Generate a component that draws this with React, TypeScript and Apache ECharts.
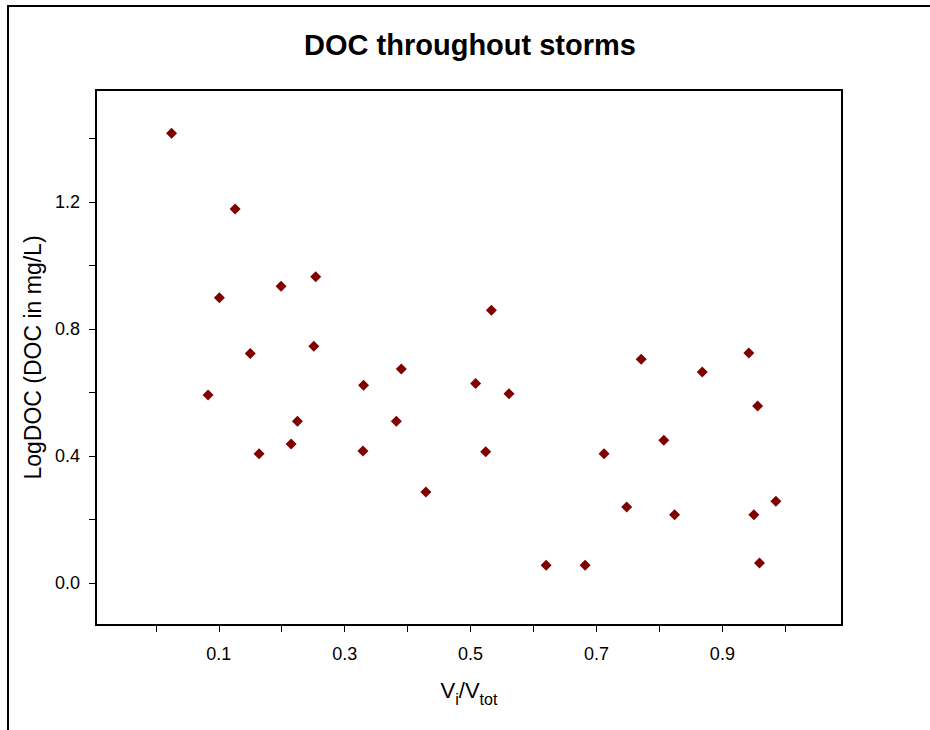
import React, { useEffect, useRef } from "react";
import * as echarts from "echarts";

const TITLE = "DOC throughout storms";
const Y_NAME = "LogDOC (DOC in mg/L)";

const xValues = [
  0.025, 0.126, 0.101, 0.083, 0.150, 0.164, 0.199, 0.215, 0.225, 0.254, 0.251,
  0.330, 0.329, 0.390, 0.382, 0.429, 0.508, 0.533, 0.524, 0.561, 0.620, 0.682,
  0.712, 0.748, 0.771, 0.807, 0.824, 0.868, 0.942, 0.956, 0.950, 0.959, 0.985,
];
const yValues = [
  1.416, 1.177, 0.898, 0.591, 0.722, 0.406, 0.934, 0.437, 0.509, 0.964, 0.745,
  0.622, 0.415, 0.673, 0.509, 0.286, 0.628, 0.858, 0.413, 0.595, 0.055, 0.055,
  0.406, 0.239, 0.704, 0.449, 0.214, 0.664, 0.724, 0.557, 0.214, 0.062, 0.257,
];

const xTicks = [0, 0.1, 0.2, 0.3, 0.4, 0.5, 0.6, 0.7, 0.8, 0.9, 1.0];
const xTickLabels = [0.1, 0.3, 0.5, 0.7, 0.9];
const yTicks = [0, 0.2, 0.4, 0.6, 0.8, 1.0, 1.2, 1.4];
const yTickLabels = [0, 0.4, 0.8, 1.2];

const FONT = "Arial, 'Liberation Sans', sans-serif";

export default function App() {
  const ref = useRef<HTMLDivElement>(null);
  useEffect(() => {
    if (!ref.current) return;
    const chart = echarts.init(ref.current, null, { renderer: "svg" });
    const data = xValues.map((x, i) => [x, yValues[i]]);
    chart.setOption({
      animation: false,
      backgroundColor: "#ffffff",
      title: {
        text: TITLE,
        left: 465,
        top: 25,
        textAlign: "center",
        textStyle: { fontFamily: FONT, fontWeight: "bold", fontSize: 29, color: "#000" },
      },
      grid: {
        left: 96,
        top: 90,
        right: 88,
        bottom: 105,
        show: true,
        borderColor: "#000",
        borderWidth: 2,
        backgroundColor: "transparent",
      },
      xAxis: {
        type: "value",
        min: -0.095,
        max: 1.09,
        name: "{a|V}{s|i}{a|/V}{s|tot}",
        nameLocation: "middle",
        nameGap: 54,
        nameTextStyle: {
          rich: {
            a: { fontFamily: FONT, fontSize: 22, color: "#000", lineHeight: 28, verticalAlign: "top" },
            s: { fontFamily: FONT, fontSize: 16, color: "#000", lineHeight: 28, verticalAlign: "bottom", padding: [10, 0, 0, 0] },
          },
        },
        axisLine: { show: false, onZero: false },
        splitLine: { show: false },
        axisTick: {
          show: true,
          inside: false,
          length: 7,
          customValues: xTicks,
          lineStyle: { color: "#000", width: 1 },
        },
        axisLabel: {
          customValues: xTickLabels,
          formatter: (v: number) => v.toFixed(1),
          fontFamily: FONT,
          fontSize: 18,
          color: "#000",
          margin: 20,
        },
      },
      yAxis: {
        type: "value",
        min: -0.133,
        max: 1.552,
        name: Y_NAME,
        nameLocation: "middle",
        nameGap: 51,
        nameTextStyle: { fontFamily: FONT, fontSize: 23, color: "#000" },
        axisLine: { show: false, onZero: false },
        splitLine: { show: false },
        axisTick: {
          show: true,
          inside: false,
          length: 7,
          customValues: yTicks,
          lineStyle: { color: "#000", width: 1 },
        },
        axisLabel: {
          customValues: yTickLabels,
          formatter: (v: number) => v.toFixed(1),
          fontFamily: FONT,
          fontSize: 18,
          color: "#000",
          margin: 16,
        },
      },
      graphic: [
        {
          type: "polyline",
          shape: { points: [[8, 730], [8, 6], [930, 6]] },
          style: { stroke: "#000", lineWidth: 2, fill: null },
          z: 100,
        },
      ],
      series: [
        {
          type: "scatter",
          data,
          symbol: "diamond",
          symbolSize: 11,
          itemStyle: { color: "#800000", opacity: 1 },
        },
      ],
    });
    return () => chart.dispose();
  }, []);
  return (
    <div
      ref={ref}
      style={{ position: "absolute", left: 0, top: 0, width: 930, height: 730 }}
    />
  );
}
